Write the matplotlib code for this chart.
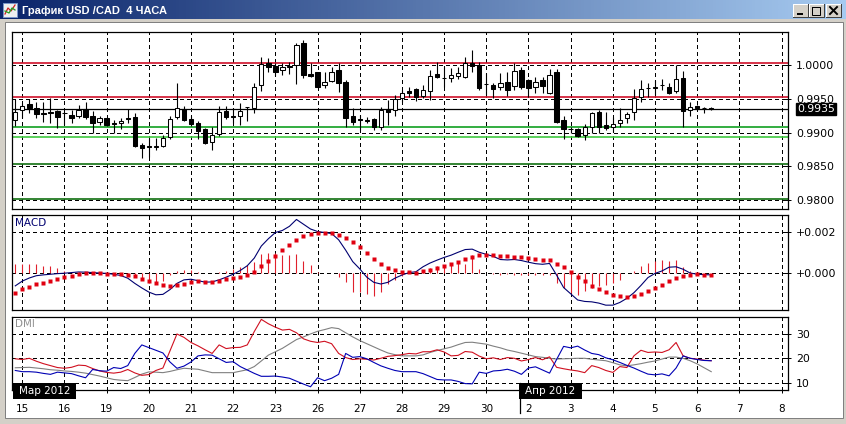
import numpy as np
import matplotlib
matplotlib.use("Agg")
import matplotlib.pyplot as plt
from matplotlib.patches import Rectangle
from matplotlib.colors import LinearSegmentedColormap
import matplotlib.transforms as mtrans

# ---------------- data ----------------
bar_index = np.arange(-1, 99)          # 4-hour bars, bar 0 = 15 Mar 00:00
bars_per_day = 6
day_labels = ['15', '16', '19', '20', '21', '22', '23', '26', '27', '28',
              '29', '30', '2', '3', '4', '5', '6', '7', '8']

opens = [0.9919, 0.9933, 0.9942, 0.9936, 0.9929, 0.9930, 0.9932, 0.9929, 0.9926, 0.9925,
         0.9935, 0.9925, 0.9916, 0.9922, 0.9914, 0.9914, 0.9922, 0.9923, 0.9881, 0.9880,
         0.9879, 0.9880, 0.9893, 0.9923, 0.9935, 0.9920, 0.9914, 0.9905, 0.9886, 0.9898,
         0.9932, 0.9925, 0.9925, 0.9938, 0.9936, 0.9970, 1.0003, 0.9999, 0.9993, 0.9997,
         1.0000, 1.0033, 0.9987, 0.9990, 0.9970, 0.9976, 0.9993, 0.9975, 0.9925, 0.9920,
         0.9918, 0.9920, 0.9908, 0.9935, 0.9933, 0.9951, 0.9962, 0.9964, 0.9954, 0.9962,
         0.9987, 0.9981, 0.9981, 0.9984, 0.9982, 1.0003, 1.0000, 0.9972, 0.9970, 0.9967,
         0.9975, 0.9969, 0.9993, 0.9978, 0.9967, 0.9978, 0.9959, 0.9990, 0.9919, 0.9905,
         0.9905, 0.9896, 0.9908, 0.9930, 0.9911, 0.9908, 0.9914, 0.9922, 0.9930, 0.9953,
         0.9966, 0.9966, 0.9970, 0.9967, 0.9962, 0.9981, 0.9933, 0.9939, 0.9936, 0.9936]
highs = [0.9950, 0.9944, 0.9950, 0.9945, 0.9945, 0.9951, 0.9933, 0.9932, 0.9933, 0.9941,
         0.9945, 0.9932, 0.9925, 0.9923, 0.9919, 0.9922, 0.9935, 0.9929, 0.9884, 0.9892,
         0.9892, 0.9896, 0.9925, 0.9973, 0.9939, 0.9925, 0.9917, 0.9907, 0.9908, 0.9939,
         0.9939, 0.9936, 0.9944, 0.9938, 0.9973, 1.0012, 1.0010, 1.0003, 1.0003, 1.0004,
         1.0033, 1.0037, 1.0003, 0.9990, 0.9990, 0.9997, 1.0003, 0.9978, 0.9936, 0.9926,
         0.9923, 0.9922, 0.9938, 0.9948, 0.9956, 0.9963, 0.9967, 0.9966, 0.9970, 0.9993,
         1.0004, 0.9997, 0.9996, 0.9997, 1.0012, 1.0022, 1.0004, 0.9988, 0.9973, 0.9988,
         0.9990, 1.0003, 0.9997, 0.9979, 0.9982, 0.9982, 0.9994, 0.9994, 0.9925, 0.9908,
         0.9907, 0.9913, 0.9930, 0.9933, 0.9930, 0.9923, 0.9936, 0.9930, 0.9964, 0.9978,
         0.9973, 0.9978, 0.9979, 0.9973, 1.0000, 0.9991, 0.9945, 0.9941, 0.9938, 0.9938]
lows = [0.9910, 0.9922, 0.9929, 0.9922, 0.9916, 0.9914, 0.9907, 0.9911, 0.9914, 0.9922,
        0.9920, 0.9899, 0.9911, 0.9910, 0.9899, 0.9905, 0.9914, 0.9879, 0.9862, 0.9864,
        0.9874, 0.9879, 0.9890, 0.9920, 0.9917, 0.9910, 0.9890, 0.9883, 0.9874, 0.9895,
        0.9920, 0.9914, 0.9911, 0.9917, 0.9929, 0.9962, 0.9990, 0.9984, 0.9985, 0.9987,
        0.9972, 0.9981, 0.9982, 0.9966, 0.9966, 0.9975, 0.9960, 0.9908, 0.9911, 0.9904,
        0.9914, 0.9904, 0.9904, 0.9911, 0.9925, 0.9945, 0.9953, 0.9947, 0.9951, 0.9948,
        0.9981, 0.9967, 0.9975, 0.9979, 0.9981, 0.9990, 0.9963, 0.9956, 0.9951, 0.9963,
        0.9954, 0.9963, 0.9964, 0.9953, 0.9959, 0.9959, 0.9957, 0.9914, 0.9890, 0.9899,
        0.9893, 0.9889, 0.9899, 0.9899, 0.9904, 0.9901, 0.9908, 0.9914, 0.9919, 0.9945,
        0.9953, 0.9956, 0.9963, 0.9957, 0.9959, 0.9908, 0.9925, 0.9933, 0.9929, 0.9933]
closes = [0.9930, 0.9939, 0.9936, 0.9927, 0.9927, 0.9929, 0.9923, 0.9929, 0.9922, 0.9933,
          0.9923, 0.9914, 0.9922, 0.9911, 0.9913, 0.9917, 0.9920, 0.9880, 0.9877, 0.9879,
          0.9880, 0.9892, 0.9920, 0.9936, 0.9919, 0.9913, 0.9902, 0.9884, 0.9896, 0.9930,
          0.9923, 0.9923, 0.9932, 0.9938, 0.9967, 1.0001, 0.9997, 0.9990, 0.9997, 0.9998,
          1.0030, 0.9985, 0.9984, 0.9967, 0.9975, 0.9990, 0.9973, 0.9922, 0.9916, 0.9919,
          0.9917, 0.9908, 0.9933, 0.9930, 0.9950, 0.9959, 0.9959, 0.9953, 0.9963, 0.9984,
          0.9982, 0.9981, 0.9985, 0.9988, 1.0003, 0.9999, 0.9966, 0.9972, 0.9964, 0.9973,
          0.9963, 0.9991, 0.9967, 0.9966, 0.9975, 0.9969, 0.9985, 0.9916, 0.9905, 0.9905,
          0.9895, 0.9908, 0.9929, 0.9908, 0.9907, 0.9913, 0.9919, 0.9927, 0.9951, 0.9964,
          0.9966, 0.9967, 0.9970, 0.9959, 0.9979, 0.9932, 0.9938, 0.9936, 0.9936, 0.9935]

bid_price = 0.9935
red_levels = [1.0003, 0.9952]
green_levels = [0.9908]
light_green_levels = [0.9894]
dark_green_levels = [0.9853, 0.9801]
price_ticks = [1.0000, 0.9950, 0.9900, 0.9850, 0.9800]

# MACD values in thousandths
macd_milli = [-0.62, -0.39, -0.24, -0.13, -0.09, -0.06, -0.03, -0.01, 0.02, 0.05,
              0.04, 0.02, 0.0, -0.02, -0.06, -0.12, -0.25, -0.5, -0.72, -0.92,
              -1.05, -1.03, -0.8, -0.5, -0.33, -0.3, -0.37, -0.44, -0.43, -0.33,
              -0.2, -0.06, 0.12, 0.35, 0.72, 1.3, 1.65, 1.95, 2.05, 2.25,
              2.58, 2.35, 2.12, 2.0, 1.95, 1.9, 1.6, 1.1, 0.55, 0.2,
              -0.2, -0.45, -0.53, -0.45, -0.25, -0.1, 0.02, 0.06, 0.3, 0.48,
              0.62, 0.75, 0.86, 1.0, 1.13, 1.15, 1.0, 0.9, 0.8, 0.65,
              0.63, 0.65, 0.6, 0.52, 0.45, 0.42, 0.46, -0.1, -0.7, -1.0,
              -1.3, -1.37, -1.39, -1.45, -1.55, -1.55, -1.42, -1.22, -0.95, -0.6,
              -0.22, -0.02, 0.1, 0.28, 0.30, 0.18, 0.0, -0.06, -0.08, -0.09]
signal_milli = [-0.94, -0.79, -0.66, -0.55, -0.47, -0.39, -0.27, -0.19, -0.13, -0.06,
                -0.02, 0.0, -0.02, -0.03, -0.03, -0.06, -0.08, -0.16, -0.29, -0.39,
                -0.48, -0.58, -0.65, -0.6, -0.52, -0.45, -0.40, -0.44, -0.45, -0.40,
                -0.31, -0.26, -0.18, -0.08, 0.05, 0.32, 0.58, 0.84, 1.10, 1.34,
                1.58, 1.77, 1.89, 1.94, 1.94, 1.94, 1.85, 1.71, 1.50, 1.23,
                0.98, 0.69, 0.45, 0.26, 0.13, 0.06, 0.03, 0.02, 0.08, 0.13,
                0.22, 0.32, 0.43, 0.51, 0.67, 0.77, 0.85, 0.88, 0.88, 0.83,
                0.80, 0.75, 0.75, 0.70, 0.66, 0.62, 0.61, 0.43, 0.29, 0.05,
                -0.19, -0.40, -0.62, -0.77, -0.93, -1.06, -1.12, -1.15, -1.09, -1.01,
                -0.85, -0.72, -0.56, -0.40, -0.24, -0.16, -0.10, -0.05, -0.08, -0.10]
hist_milli = [0.45, 0.45, 0.42, 0.42, 0.35, 0.32, 0.23, 0.10, 0.06, 0.03,
              0.02, 0.02, 0.0, 0.0, -0.02, -0.05, -0.12, -0.2, -0.35, -0.48,
              -0.55, -0.4, -0.12, 0.1, 0.15, 0.15, 0.05, 0.0, 0.0, 0.05,
              0.1, 0.18, 0.28, 0.4, 0.55, 0.9, 0.95, 0.95, 0.85, 0.88,
              0.92, 0.6, 0.4, 0.05, 0.0, 0.0, -0.2, -0.45, -0.9, -0.9,
              -1.0, -1.1, -0.9, -0.55, -0.35, -0.15, 0.0, 0.02, 0.03, 0.24,
              0.35, 0.4, 0.48, 0.56, 0.45, 0.88, 0.2, 0.0, -0.05, -0.08,
              -0.05, -0.08, -0.1, -0.1, -0.1, -0.12, -0.12, -0.48, -0.72, -0.96,
              -1.04, -0.88, -0.72, -0.64, -0.56, -0.48, -0.32, 0.0, 0.08, 0.35,
              0.48, 0.56, 0.61, 0.56, 0.64, 0.29, 0.11, 0.0, 0.0, 0.0]
macd_ticks = [0.002, 0.0]
macd_tick_labels = ['+0.002', '+0.000']

plus_di = [19.8, 19.5, 20.0, 18.8, 17.8, 17.0, 16.2, 15.9, 16.3, 17.2,
           17.0, 15.8, 14.8, 14.2, 13.9, 14.3, 15.4, 14.0, 13.0, 13.3,
           15.0, 16.0, 23.0, 30.0, 28.6, 26.5, 25.1, 23.5, 22.0, 25.5,
           24.0, 24.4, 24.5, 25.5, 31.0, 36.0, 34.2, 32.8, 31.6, 31.9,
           30.5, 28.0, 27.0, 26.5, 27.0, 26.0, 22.0, 20.3, 19.5, 19.8,
           19.6, 19.3, 20.0, 20.8, 21.1, 21.5, 22.0, 21.8, 22.7, 22.7,
           23.5, 22.6, 21.0, 21.2, 22.8, 22.5, 20.9, 19.8, 20.2, 19.5,
           20.3, 20.0, 18.9, 19.5, 20.3, 19.4, 20.6, 16.3, 15.7, 15.2,
           14.8, 14.1, 17.0, 16.2, 15.0, 14.2, 16.6, 16.2, 21.0, 23.3,
           22.4, 22.6, 22.4, 23.5, 26.5, 21.0, 20.0, 19.7, 19.2, 19.0]
minus_di = [15.0, 14.5, 14.5, 14.3, 13.8, 13.4, 14.3, 14.0, 13.7, 12.8,
            12.0, 15.4, 14.9, 14.7, 16.2, 15.8, 17.0, 22.0, 25.5, 24.4,
            23.3, 22.2, 18.5, 15.9, 16.8, 18.5, 21.0, 21.4, 21.3, 19.8,
            18.3, 18.6, 16.6, 15.2, 13.8, 12.6, 12.6, 12.7, 12.3, 11.8,
            10.6, 9.4, 8.3, 12.0, 10.8, 11.8, 13.4, 22.0, 20.4, 20.7,
            19.8, 18.3, 16.9, 15.9, 15.0, 14.5, 14.5, 14.5, 13.7, 12.5,
            11.3, 11.1, 11.1, 10.5, 9.6, 9.5, 14.3, 13.8, 14.8, 15.0,
            15.5, 14.7, 13.4, 16.0, 16.5, 15.2, 13.9, 19.5, 24.9, 24.3,
            25.0, 23.4, 22.0, 21.5, 20.2, 19.4, 18.3, 17.1, 16.0, 14.7,
            13.5, 13.2, 13.6, 12.8, 16.0, 21.0, 20.0, 19.5, 19.1, 19.0]
adx = [16.1, 16.2, 16.3, 16.0, 15.7, 15.3, 15.1, 14.8, 14.6, 14.3,
       13.9, 13.3, 12.7, 12.0, 11.3, 11.0, 10.8, 12.1, 13.5, 14.4,
       14.3, 14.1, 14.6, 15.3, 15.9, 15.7, 15.5, 14.8, 14.1, 14.1,
       14.1, 14.1, 14.7, 15.3, 16.6, 18.9, 21.3, 22.7, 24.1, 25.9,
       27.7, 28.8, 30.0, 31.1, 31.8, 32.6, 32.2, 30.5, 28.8, 27.3,
       26.0, 24.7, 23.4, 22.2, 21.5, 21.0, 21.0, 21.0, 21.4, 22.4,
       23.2, 23.9, 24.6, 25.6, 26.5, 26.6, 26.2, 25.8, 25.0, 24.3,
       23.4, 22.8, 22.1, 21.4, 20.7, 20.4, 20.0, 19.7, 19.8, 19.9,
       20.0, 20.0, 19.6, 19.3, 19.0, 18.2, 17.3, 16.9, 17.3, 17.8,
       18.4, 18.9, 19.7, 20.5, 20.5, 20.0, 19.0, 17.7, 16.1, 14.5]
dmi_ticks = [30, 20, 10]

# ---------------- layout ----------------
W, H = 846, 424
fig = plt.figure(figsize=(W / 100, H / 100), dpi=100)
fig.patch.set_facecolor('#d4d0c8')
FONT = 'DejaVu Sans'
LW = 0.72  # one pixel


def px_axes(x0, y0, x1, y1, z):
    return fig.add_axes([x0 / W, 1 - y1 / H, (x1 - x0) / W, (y1 - y0) / H], zorder=z)


# background: window frame and title bar
bg = px_axes(0, 0, W, H, 0)
bg.set_axis_off()
tb_cmap = LinearSegmentedColormap.from_list('tb', ['#0a246a', '#a6caf0'])
bg.imshow(np.linspace(0, 1, 256).reshape(1, -1), extent=(0, W, 19.5, 0),
          aspect='auto', cmap=tb_cmap, interpolation='bilinear')
bg.add_patch(Rectangle((4.5, 21.5), 838, 396, facecolor='white',
                       edgecolor='#808080', linewidth=LW))
bg.text(22, 10.5, 'График USD /CAD  4 ЧАСА', color='white', fontsize=8,
        fontweight='bold', family='Liberation Sans', va='center', ha='left')
# icon
bg.add_patch(Rectangle((3, 3), 14, 14, facecolor='#f0f0f0', edgecolor='#7a96c8', linewidth=LW))
bg.plot([5, 8, 11, 15], [14, 8, 11, 5], color='#d02020', lw=0.9)
bg.plot([5, 9, 12, 15], [11, 13, 8, 10], color='#20a020', lw=0.9)
# window buttons
for bx, glyph in [(793, 'min'), (808.5, 'max'), (826, 'close')]:
    bg.add_patch(Rectangle((bx, 4), 15, 13, facecolor='#d4d0c8', edgecolor='none'))
    bg.plot([bx, bx, bx + 15], [17, 4, 4], color='white', lw=LW)
    bg.plot([bx, bx + 15, bx + 15], [17, 17, 4], color='#404040', lw=LW)
    if glyph == 'min':
        bg.add_patch(Rectangle((bx + 4, 13), 6, 2, facecolor='black'))
    elif glyph == 'max':
        bg.add_patch(Rectangle((bx + 3.5, 6.5), 8, 8, facecolor='none', edgecolor='black', lw=LW))
        bg.add_patch(Rectangle((bx + 3.5, 6.5), 8, 1.5, facecolor='black'))
    else:
        bg.plot([bx + 4, bx + 11], [7, 14], color='black', lw=1.4)
        bg.plot([bx + 4, bx + 11], [14, 7], color='black', lw=1.4)
bg.set_xlim(0, W)
bg.set_ylim(H, 0)

xlim = (-1.465, 108.92)
day_pos = np.arange(len(day_labels)) * bars_per_day
grid_kw = dict(color='black', linewidth=LW, linestyle=(0, (3, 3)), antialiased=False)

ax_p = px_axes(12, 32, 788, 209, 1)
ax_m = px_axes(12, 215, 788, 310, 1)
ax_d = px_axes(12, 316.5, 788, 390, 1)

for ax in (ax_p, ax_m, ax_d):
    ax.set_facecolor('white')
    ax.set_xlim(*xlim)
    ax.set_xticks(day_pos)
    ax.yaxis.tick_right()
    ax.tick_params(axis='y', direction='inout', length=5, width=LW, pad=3.2,
                   labelsize=7.8, colors='black')
    ax.grid(True, **grid_kw)
    for sp in ax.spines.values():
        sp.set_linewidth(0.9)
        sp.set_color('black')

for ax in (ax_p, ax_m):
    ax.tick_params(axis='x', length=0, labelbottom=False)

# ---- price panel ----
o = np.array(opens); h = np.array(highs); l = np.array(lows); c = np.array(closes)
up = c >= o
ax_p.set_ylim(0.978667, 1.004889)
ax_p.set_yticks(price_ticks)
ax_p.set_yticklabels([f'{v:.4f}' for v in price_ticks], family=FONT)
level_kw = dict(lw=1.2, zorder=2.1)
for lv in red_levels:
    ax_p.axhline(lv, color='#d0102a', **level_kw)
for lv in green_levels:
    ax_p.axhline(lv, color='#10a020', **level_kw)
for lv in light_green_levels:
    ax_p.axhline(lv, color='#40c840', **level_kw)
for lv in dark_green_levels:
    ax_p.axhline(lv, color='#107010', **level_kw)
ax_p.axhline(bid_price, color='black', lw=0.9, zorder=2.2)
ax_p.vlines(bar_index, l, h, color='black', lw=0.8, zorder=3)
ax_p.bar(bar_index, np.abs(c - o), bottom=np.minimum(o, c), width=0.62,
         color=np.where(up, 'white', 'black'), edgecolor='black', linewidth=0.75, zorder=4)
ax_p.text((797 - 12) / 776, bid_price, f'{bid_price:.4f}', color='white', fontsize=7.8,
          family=FONT, va='center', ha='left', zorder=20, clip_on=False,
          transform=mtrans.blended_transform_factory(ax_p.transAxes, ax_p.transData),
          bbox=dict(boxstyle='square,pad=0.12', facecolor='black', edgecolor='black'))

# ---- MACD panel ----
macd = np.array(macd_milli) * 1e-3
signal = np.array(signal_milli) * 1e-3
hist = np.array(hist_milli) * 1e-3
ax_m.set_ylim(-0.001783, 0.0027952)
ax_m.set_yticks(macd_ticks)
ax_m.set_yticklabels(macd_tick_labels, family=FONT)
ax_m.vlines(bar_index, 0, hist, color='#e0202c', lw=0.8, zorder=2.2)
ax_m.plot(bar_index, macd, color='#000070', lw=0.8, zorder=3)
ax_m.plot(bar_index, signal, ls='none', marker='s', ms=2.2, color='#e00010',
          mec='none', zorder=4)
ax_m.text(3 / 776, 1 - 7.7 / 95, 'MACD', transform=ax_m.transAxes, color='#000070',
          fontsize=7.5, family=FONT, va='center', ha='left')

# ---- DMI panel ----
ax_d.set_ylim(6.97, 37.18)
ax_d.set_yticks(dmi_ticks)
ax_d.set_yticklabels([str(v) for v in dmi_ticks], family=FONT)
ax_d.plot(bar_index, adx, color='#808080', lw=0.8, zorder=2.5)
ax_d.plot(bar_index, plus_di, color='#d01020', lw=0.8, zorder=3)
ax_d.plot(bar_index, minus_di, color='#0000b4', lw=0.8, zorder=3.2)
ax_d.set_xticklabels(day_labels, family=FONT, fontsize=7.5)
ax_d.tick_params(axis='x', direction='inout', length=4.5, width=LW, pad=7.5, colors='black')
ax_d.text(3 / 776, 1 - 7.5 / 73.5, 'DMI', transform=ax_d.transAxes, color='#909090',
          fontsize=7.5, family=FONT, va='center', ha='left', zorder=5,
          bbox=dict(boxstyle='square,pad=0.05', facecolor='white', edgecolor='none'))

# ---- overlay: month markers ----
top = px_axes(0, 0, W, H, 5)
top.set_axis_off()
top.patch.set_visible(False)
top.set_xlim(0, W)
top.set_ylim(H, 0)
for (bx, bw, label) in [(12.7, 63.3, 'Мар 2012'), (519.3, 62.4, 'Апр 2012')]:
    top.add_patch(Rectangle((bx, 382.7), bw, 16.3, facecolor='black', edgecolor='none'))
    top.text(bx + bw / 2, 391, label, color='white', fontsize=7.5, family=FONT,
             ha='center', va='center')
top.plot([519.8, 519.8], [382.7, 412.7], color='black', lw=0.9)

fig.savefig('out.png', dpi=100, facecolor=fig.get_facecolor())
